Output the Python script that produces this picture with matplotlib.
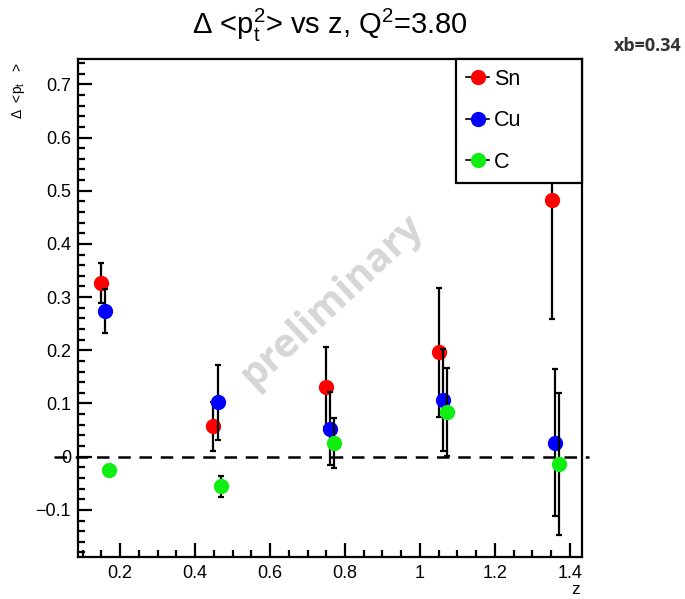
import numpy as np
import matplotlib
matplotlib.use("Agg")
import matplotlib.pyplot as plt
from matplotlib.lines import Line2D
from matplotlib.ticker import MultipleLocator, FuncFormatter

plt.rcParams['font.family'] = ['Liberation Sans', 'DejaVu Sans']
plt.rcParams['mathtext.fontset'] = 'custom'
plt.rcParams['mathtext.rm'] = 'Liberation Sans'
plt.rcParams['mathtext.it'] = 'Liberation Sans:italic'

# z positions (slightly shifted per target) and delta <pt^2> values
z_sn = [0.149, 0.448, 0.750, 1.050, 1.351]
z_cu = [0.160, 0.461, 0.759, 1.061, 1.360]
z_c = [0.171, 0.470, 0.770, 1.071, 1.370]

pt_sn = [0.327, 0.057, 0.131, 0.196, 0.482]
pt_cu = [0.274, 0.102, 0.053, 0.106, 0.026]
pt_c = [-0.025, -0.056, 0.026, 0.084, -0.014]

err_sn = [0.038, 0.046, 0.076, 0.122, 0.224]
err_cu = [0.041, 0.070, 0.069, 0.096, 0.138]
err_c = [0.004, 0.020, 0.047, 0.083, 0.133]

targets = ['Sn', 'Cu', 'C']
colors = ['#ff0000', '#0000ff', '#11ee11']

fig = plt.figure(figsize=(6.85, 5.99), dpi=100)
ax = fig.add_axes([0.1139, 0.0706, 0.7357, 0.8304])

series = [(z_sn, pt_sn, err_sn), (z_cu, pt_cu, err_cu), (z_c, pt_c, err_c)]
for i, (z, v, e) in enumerate(series):
    ax.errorbar(z, v, yerr=e, fmt='o', color=colors[i], ms=10, mec=colors[i],
                ecolor='black', elinewidth=1.6, capsize=2.5, capthick=1.6,
                zorder=3 + i)

ax.set_xlim(0.088, 1.432)
ax.set_ylim(-0.188, 0.747)

# zero line, spills a little past the frame
ax.plot([0.025, 1.45], [0, 0], color='black', lw=1.8, ls=(0, (5, 3.5)),
        clip_on=False, zorder=2)

ax.xaxis.set_major_locator(MultipleLocator(0.2))
ax.xaxis.set_minor_locator(MultipleLocator(0.05))
ax.yaxis.set_major_locator(MultipleLocator(0.1))
ax.yaxis.set_minor_locator(MultipleLocator(0.02))


def fmt(x, pos):
    if abs(x) < 1e-9:
        return '0'
    if abs(x - round(x)) < 1e-9:
        return '%d' % round(x)
    return ('%.1f' % x).replace('-', '\u2212')


ax.xaxis.set_major_formatter(FuncFormatter(fmt))
ax.yaxis.set_major_formatter(FuncFormatter(fmt))
ax.tick_params(which='both', direction='in', top=False, right=False,
               labelsize=13, width=1.6)
ax.tick_params(axis='x', which='major', length=10, pad=6)
ax.tick_params(axis='y', which='major', length=10, pad=5)
ax.tick_params(which='minor', length=5)
for sp in ax.spines.values():
    sp.set_linewidth(1.6)

handles = [Line2D([0], [0], color='black', lw=1.2, marker='o', ms=10,
                  mfc=c, mec=c) for c in colors]
leg = ax.legend(handles, targets, loc='upper left',
                bbox_to_anchor=(0.75, 0.5, 0.25, 0.5), mode='expand',
                borderaxespad=0, fontsize=15.5, frameon=True, fancybox=False,
                edgecolor='black', framealpha=1, handlelength=1.1,
                handletextpad=0.2, labelspacing=0.95, borderpad=0.45)
leg.get_frame().set_linewidth(1.6)
leg.set_zorder(10)

fig.text(0.482, 0.958, r'$\Delta$ <$\mathrm{p}_\mathrm{t}^\mathrm{2}$> vs z, Q$^\mathrm{2}$=3.80',
         ha='center', va='center', fontsize=21)
fig.text(0.995, 0.924, 'xb=0.34', ha='right', va='center', fontsize=13,
         fontweight='bold', color='#333333', family=['Open Sans', 'DejaVu Sans'])
fig.text(0.027, 1 - 62 / 599, r'$\Delta$  <p$_\mathrm{t}$   >', rotation=90,
         ha='center', va='top', fontsize=10)
fig.text(0.84, 1 - 589 / 599, 'z', ha='center', va='center', fontsize=12.5)
fig.text(0.485, 0.498, 'preliminary', rotation=43, ha='center', va='center',
         fontsize=29, fontweight='bold', color='#d6d6d6',
         family=['Open Sans', 'DejaVu Sans'], zorder=1)

fig.savefig('out.png', dpi=100)
